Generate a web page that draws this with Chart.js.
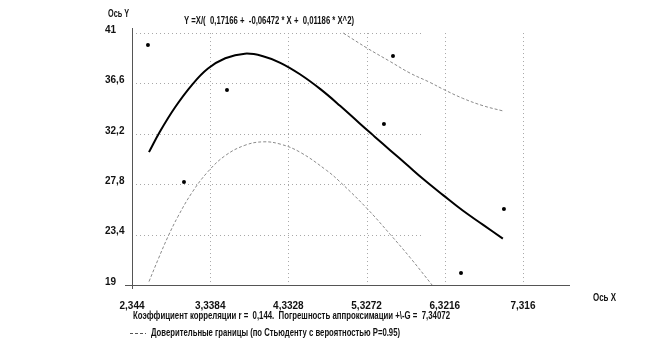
<!DOCTYPE html>
<html>
<head>
<meta charset="utf-8">
<script src="https://cdn.jsdelivr.net/npm/chart.js@4/dist/chart.umd.min.js"></script>
<style>
html,body{margin:0;padding:0;background:#fff;}
#wrap{width:655px;height:357px;position:relative;}
</style>
</head>
<body>
<div id="wrap"><canvas id="c" width="655" height="357"></canvas></div>
<script>
// ---- data ----
const xTickValues = [2.344, 3.3384, 4.3328, 5.3272, 6.3216, 7.316];
const xTickLabels = ["2,344", "3,3384", "4,3328", "5,3272", "6,3216", "7,316"];
const yTickValues = [19, 23.4, 27.8, 32.2, 36.6, 41];
const yTickLabels = ["19", "23,4", "27,8", "32,2", "36,6", "41"];

const pointsX = [2.547, 3.005, 3.552, 5.548, 5.663, 6.528, 7.074];
const pointsY = [39.95, 27.99, 36.02, 33.06, 38.99, 20.05, 25.63];

const fitX = [2.56, 2.70, 2.89, 3.11, 3.31, 3.53, 3.78, 4.00, 4.23, 4.48, 4.74, 4.99, 5.24, 5.43, 5.63, 5.84, 6.04, 6.30, 6.55, 6.81, 7.06];
const fitY = [30.6, 32.4, 34.5, 36.5, 37.9, 38.8, 39.2, 39.0, 38.4, 37.4, 36.1, 34.65, 33.1, 31.95, 30.75, 29.5, 28.3, 26.85, 25.5, 24.25, 23.05];

const upperX = [5.03, 5.33, 5.63, 5.88, 6.13, 6.30, 6.55, 6.81, 7.06];
const upperY = [41.0, 39.7, 38.5, 37.5, 36.7, 36.1, 35.3, 34.65, 34.2];

const lowerX = [2.56, 2.68, 2.80, 2.93, 3.11, 3.31, 3.53, 3.78, 4.01, 4.23, 4.48, 4.82, 4.99, 5.33, 5.63, 5.88, 6.16];
const lowerY = [19.3, 21.3, 23.2, 25.0, 27.1, 28.9, 30.3, 31.2, 31.5, 31.3, 30.6, 29.0, 28.0, 25.7, 23.4, 21.4, 19.0];

const titleText = "Y =X/(  0,17166 +  -0,06472 * X +  0,01186 * X^2)";
const yAxisTitle = "Ось Y";
const xAxisTitle = "Ось X";
const statsText = "Коэффициент корреляции r =  0,144.  Погрешность аппроксимации +\\-G =  7,34072";
const bandLegendText = "Доверительные границы (по Стьюденту с вероятностью P=0.95)";

// ---- helpers ----
const pairs = (xs, ys) => xs.map((x, i) => ({x: x, y: ys[i]}));
const FONT = "'Liberation Sans Narrow','Arial Narrow','Liberation Sans',Arial,sans-serif";
const BAND_COLOR = '#8a8a8a';
const BAND_DASH = [3, 2];

function fitText(ctx, text, x0, x1, yc, size) {
  ctx.save();
  ctx.font = 'bold ' + size + 'px ' + FONT;
  ctx.textBaseline = 'middle';
  ctx.textAlign = 'left';
  const w = ctx.measureText(text).width;
  const k = (x1 - x0) / w;
  ctx.translate(x0, yc);
  ctx.scale(k, 1);
  ctx.fillStyle = '#111';
  ctx.fillText(text, 0, 0);
  ctx.restore();
}

const decor = {
  id: 'decor',
  beforeDatasetsDraw(chart) {
    const {ctx, chartArea: a, scales: {x, y}} = chart;
    ctx.save();
    ctx.strokeStyle = '#a8a8a8';
    ctx.lineWidth = 1;
    ctx.setLineDash([1, 3]);
    // vertical grid lines
    xTickValues.forEach(v => {
      if (v === xTickValues[0]) return;
      const px = Math.round(x.getPixelForValue(v)) + 0.5;
      ctx.beginPath();
      ctx.moveTo(px, y.getPixelForValue(yTickValues[yTickValues.length - 1]));
      ctx.lineTo(px, a.bottom);
      ctx.stroke();
    });
    // horizontal grid lines (end short of right edge as in original)
    const hEnd = x.getPixelForValue(6.03);
    yTickValues.forEach(v => {
      if (v === yTickValues[0]) return;
      const py = Math.round(y.getPixelForValue(v)) + 0.5;
      ctx.beginPath();
      ctx.moveTo(a.left + 4, py);
      ctx.lineTo(hEnd, py);
      ctx.stroke();
    });
    ctx.setLineDash([]);
    // axes
    ctx.strokeStyle = '#555';
    ctx.beginPath();
    ctx.moveTo(a.left - 7, Math.round(a.bottom) + 0.5);
    ctx.lineTo(a.right, Math.round(a.bottom) + 0.5);
    ctx.moveTo(Math.round(a.left) + 0.5, a.top);
    ctx.lineTo(Math.round(a.left) + 0.5, a.bottom + 4);
    ctx.stroke();
    ctx.restore();
  },
  afterDraw(chart) {
    const ctx = chart.ctx;
    fitText(ctx, yAxisTitle, 108, 129, 14, 11);
    fitText(ctx, titleText, 184, 354, 21, 11);
    fitText(ctx, xAxisTitle, 593, 616, 298, 11);
    fitText(ctx, statsText, 133, 450, 316, 11);
    // legend dashed sample
    ctx.save();
    ctx.strokeStyle = '#555';
    ctx.lineWidth = 1;
    ctx.setLineDash(BAND_DASH);
    ctx.beginPath();
    ctx.moveTo(130, 333.5);
    ctx.lineTo(146, 333.5);
    ctx.stroke();
    ctx.restore();
    fitText(ctx, bandLegendText, 151, 400, 333, 11);
  }
};

new Chart(document.getElementById('c'), {
  type: 'scatter',
  data: {
    datasets: [
      {
        label: 'fit', data: pairs(fitX, fitY), showLine: true,
        borderColor: '#000', borderWidth: 2, pointRadius: 0,
        tension: 0.4, fill: false
      },
      {
        label: 'upper', data: pairs(upperX, upperY), showLine: true,
        borderColor: BAND_COLOR, borderWidth: 1, borderDash: BAND_DASH, pointRadius: 0,
        tension: 0.4, fill: false
      },
      {
        label: 'lower', data: pairs(lowerX, lowerY), showLine: true,
        borderColor: BAND_COLOR, borderWidth: 1, borderDash: BAND_DASH, pointRadius: 0,
        tension: 0.4, fill: false
      },
      {
        label: 'points', data: pairs(pointsX, pointsY), showLine: false,
        pointRadius: 2, pointBackgroundColor: '#000', pointBorderWidth: 0
      }
    ]
  },
  options: {
    responsive: false,
    animation: false,
    events: [],
    layout: {padding: {left: 105, right: 85, top: 28, bottom: 0}},
    plugins: {legend: {display: false}, tooltip: {enabled: false}, title: {display: false}},
    scales: {
      x: {
        type: 'linear', min: 2.344, max: 7.914,
        grid: {display: false}, border: {display: false},
        afterBuildTicks: s => { s.ticks = xTickValues.map(v => ({value: v})); },
        afterFit: s => { s.height = 72; },
        ticks: {
          padding: 7, color: '#111', maxRotation: 0, autoSkip: false,
          font: {family: FONT, size: 10, weight: 'bold'},
          callback: (v, i) => xTickLabels[i]
        }
      },
      y: {
        type: 'linear', min: 19, max: 41.44,
        grid: {display: false}, border: {display: false},
        afterBuildTicks: s => { s.ticks = yTickValues.map(v => ({value: v})); },
        afterFit: s => { s.width = 27; },
        ticks: {
          crossAlign: 'far', padding: 4, color: '#111', autoSkip: false,
          font: {family: FONT, size: 10, weight: 'bold', lineHeight: 0.6},
          callback: (v, i) => [yTickLabels[i], '']
        }
      }
    }
  },
  plugins: [decor]
});
</script>
</body>
</html>
